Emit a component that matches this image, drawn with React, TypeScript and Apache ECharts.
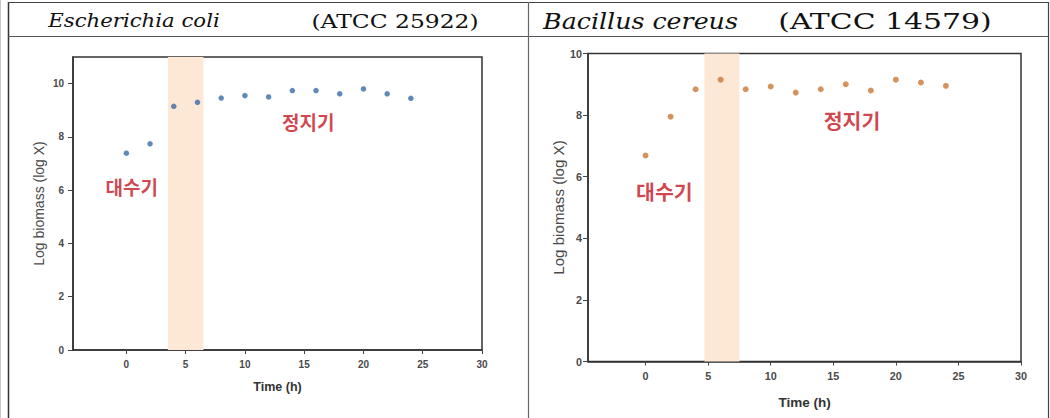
import React, { useEffect, useRef } from "react";
import * as echarts from "echarts";

const timeHours = [0, 2, 4, 6, 8, 10, 12, 14, 16, 18, 20, 22, 24];
const ecoliLogBiomass = [7.39, 7.74, 9.15, 9.3, 9.46, 9.55, 9.5, 9.74, 9.74, 9.62, 9.8, 9.62, 9.45];
const bcereusLogBiomass = [6.69, 7.95, 8.84, 9.15, 8.84, 8.93, 8.73, 8.84, 9.0, 8.8, 9.15, 9.06, 8.95];
const ecoliBand = [3.5, 6.5];
const bcereusBand = [4.7, 7.5];
const xTicks = [0, 5, 10, 15, 20, 25, 30];
const yTicks = [0, 2, 4, 6, 8, 10];
const ecoliPhaseLabels = [
  { name: "대수기", x: 0.45, y: 6.14 },
  { name: "정지기", x: 15.35, y: 8.58 },
];
const bcereusPhaseLabels = [
  { name: "대수기", x: 1.5, y: 5.52 },
  { name: "정지기", x: 16.5, y: 7.85 },
];
const ecoliHeader = ["Escherichia coli", "(ATCC 25922)"];
const bcereusHeader = ["Bacillus cereus", "(ATCC 14579)"];
const xAxisTitle = "Time (h)";
const yAxisTitle = "Log biomass (log X)";

const SANS = "'Liberation Sans', Arial, sans-serif";
const SERIF = "'DejaVu Serif', serif";
const KR = "'Noto Sans CJK KR', sans-serif";

export default function App() {
  const ref = useRef<HTMLDivElement>(null);
  useEffect(() => {
    if (!ref.current) return;
    const chart = echarts.init(ref.current, undefined, { renderer: "svg" });

    const panels = [
      {
        grid: { left: 73, top: 57, width: 409, height: 293 },
        xMin: -4.5, yMax: 11, values: ecoliLogBiomass, band: ecoliBand,
        labels: ecoliPhaseLabels, color: "#3a6ca6", scale: 1,
        xNameGap: 30, yNameGap: 27, labelMargin: 9, yLabelMargin: 9,
      },
      {
        grid: { left: 588, top: 53.5, width: 433, height: 308 },
        xMin: -4.6, yMax: 10, values: bcereusLogBiomass, band: bcereusBand,
        labels: bcereusPhaseLabels, color: "#cc7733", scale: 1.08,
        xNameGap: 34, yNameGap: 21, labelMargin: 9, yLabelMargin: 6,
      },
    ];

    const option: any = {
      animation: false,
      backgroundColor: "#ffffff",
      grid: panels.map((p) => ({
        ...p.grid,
        show: true,
        borderColor: "#333",
        borderWidth: 1.5,
        backgroundColor: "transparent",
        containLabel: false,
      })),
      xAxis: panels.map((p, i) => ({
        type: "value",
        gridIndex: i,
        min: p.xMin,
        max: 30,
        name: xAxisTitle,
        nameLocation: "middle",
        nameGap: p.xNameGap,
        nameTextStyle: { fontFamily: SANS, fontWeight: "bold", fontSize: 12.5 * p.scale, color: "#333" },
        axisLine: { show: true, onZero: false, lineStyle: { color: "#333", width: 1.5 } },
        axisTick: { show: true, customValues: xTicks, length: 4, lineStyle: { color: "#444" } },
        axisLabel: {
          customValues: xTicks, margin: p.labelMargin, fontSize: 10 * p.scale,
          fontWeight: "bold", color: "#4a4a4a", fontFamily: SANS,
        },
        splitLine: { show: false },
      })),
      yAxis: panels.map((p, i) => ({
        type: "value",
        gridIndex: i,
        min: 0,
        max: p.yMax,
        name: yAxisTitle,
        nameLocation: "middle",
        nameGap: p.yNameGap,
        nameRotate: 90,
        nameTextStyle: { fontFamily: SANS, fontSize: 14 * p.scale, color: "#4a4a4a" },
        axisLine: { show: true, onZero: false, lineStyle: { color: "#333", width: 1.5 } },
        axisTick: { show: true, customValues: yTicks, length: 5, lineStyle: { color: "#444" } },
        axisLabel: {
          customValues: yTicks, margin: p.yLabelMargin, fontSize: 10 * p.scale,
          fontWeight: "bold", color: "#4a4a4a", fontFamily: SANS,
        },
        splitLine: { show: false },
      })),
      series: panels.flatMap((p, i) => [
        {
          type: "scatter",
          xAxisIndex: i,
          yAxisIndex: i,
          data: [],
          z: 1,
          silent: true,
          markArea: {
            silent: true,
            itemStyle: { color: "#fde7d5" },
            data: [[{ xAxis: p.band[0] }, { xAxis: p.band[1] }]],
          },
        },
        {
          type: "scatter",
          xAxisIndex: i,
          yAxisIndex: i,
          z: 5,
          symbolSize: 5.5 * p.scale,
          itemStyle: { color: p.color },
          data: timeHours.map((t, k) => [t, p.values[k]]),
        },
        {
          type: "scatter",
          xAxisIndex: i,
          yAxisIndex: i,
          z: 6,
          silent: true,
          symbolSize: 1,
          itemStyle: { color: "transparent" },
          label: {
            show: true,
            position: "inside",
            formatter: "{b}",
            fontFamily: KR,
            fontWeight: "bold",
            fontSize: 19 * p.scale,
            color: "#c5141f",
          },
          data: p.labels.map((l) => ({ name: l.name, value: [l.x, l.y] })),
        },
      ]),
      graphic: [
        { type: "line", shape: { x1: 0.5, y1: 0, x2: 0.5, y2: 418 }, style: { stroke: "#c8c8c8", lineWidth: 1 } },
        { type: "line", shape: { x1: 8.5, y1: 2, x2: 8.5, y2: 418 }, style: { stroke: "#333", lineWidth: 1.5 } },
        { type: "line", shape: { x1: 8, y1: 2.5, x2: 1049, y2: 2.5 }, style: { stroke: "#444", lineWidth: 1 } },
        { type: "line", shape: { x1: 8, y1: 36.5, x2: 1049, y2: 36.5 }, style: { stroke: "#555", lineWidth: 1 } },
        { type: "line", shape: { x1: 528.5, y1: 2, x2: 528.5, y2: 418 }, style: { stroke: "#666", lineWidth: 1.2 } },
        { type: "line", shape: { x1: 1048.5, y1: 2, x2: 1048.5, y2: 418 }, style: { stroke: "#444", lineWidth: 1.2 } },
        {
          type: "text", x: 134, y: 21.5, scaleX: 1.18,
          style: { text: ecoliHeader[0], fontFamily: SERIF, fontStyle: "italic", fontSize: 18, fill: "#111", align: "center", verticalAlign: "middle" },
        },
        {
          type: "text", x: 395, y: 21.5, scaleX: 1.3,
          style: { text: ecoliHeader[1], fontFamily: SERIF, fontSize: 18, fill: "#111", align: "center", verticalAlign: "middle" },
        },
        {
          type: "text", x: 640.5, y: 21, scaleX: 1.1,
          style: { text: bcereusHeader[0], fontFamily: SERIF, fontStyle: "italic", fontSize: 23, fill: "#111", align: "center", verticalAlign: "middle" },
        },
        {
          type: "text", x: 885, y: 21, scaleX: 1.3,
          style: { text: bcereusHeader[1], fontFamily: SERIF, fontSize: 23, fill: "#111", align: "center", verticalAlign: "middle" },
        },
      ],
    };
    chart.setOption(option);
    return () => chart.dispose();
  }, []);

  return (
    <div
      ref={ref}
      style={{ position: "absolute", left: 0, top: 0, width: 1050, height: 418, background: "#fff" }}
    />
  );
}
